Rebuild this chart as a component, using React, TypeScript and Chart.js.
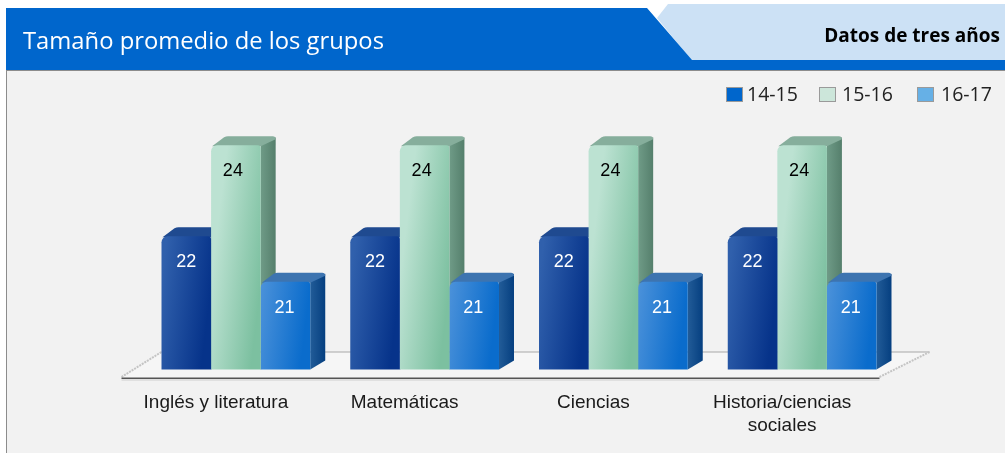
import React, { useEffect, useRef } from "react";
import { Chart, registerables } from "chart.js";

Chart.register(...registerables);

const categories: (string | string[])[] = ["Inglés y literatura", "Matemáticas", "Ciencias", ["Historia/ciencias", "sociales"]];
const seriesNames = ["14-15", "15-16", "16-17"];
const values1415 = [22, 22, 22, 22];
const values1516 = [24, 24, 24, 24];
const values1617 = [21, 21, 21, 21];
const titleText = "Tamaño promedio de los grupos";
const subtitleText = "Datos de tres años";

const frontColors = [["#3060AC", "#06338A"], ["#BCE2D2", "#7CC0A0"], ["#4C92DA", "#0A6CCC"]];
const topColors = ["#1F4A90", "#86AE9C", "#3D74B0"];
const sideColors = [["#0D3A80", "#0A2F70"], ["#6F9B87", "#557F6C"], ["#225C98", "#053F80"]];
const legendColors = ["#0066CC", "#CCE6DA", "#66B0E6"];
const labelColors = ["#ffffff", "#000000", "#ffffff"];
const labelOffsets = [0, -3, -1];
const DX = 15;
const DY = 9;
const BASE_FONT = "Liberation Sans";

function poly(ctx: CanvasRenderingContext2D, pts: number[][]) {
  ctx.beginPath();
  pts.forEach((p, i) => (i ? ctx.lineTo(p[0], p[1]) : ctx.moveTo(p[0], p[1])));
  ctx.closePath();
}

const backdrop = {
  id: "backdrop",
  beforeDraw(chart: any) {
    const ctx: CanvasRenderingContext2D = chart.ctx;
    ctx.save();
    ctx.fillStyle = "#ffffff";
    ctx.fillRect(0, 0, 1005, 453);
    ctx.fillStyle = "#F2F2F2";
    ctx.fillRect(6, 70, 999, 383);
    ctx.fillStyle = "#8C8C8C";
    ctx.fillRect(6, 70, 1, 383);
    ctx.fillRect(6, 70, 999, 1);

    ctx.fillStyle = "#CCE1F5";
    poly(ctx, [[668, 4], [1005, 4], [1005, 61], [692, 61], [657, 18]]);
    ctx.fill();
    ctx.fillStyle = "#0066CC";
    poly(ctx, [[6, 8], [647, 8], [692, 60], [1005, 60], [1005, 70], [6, 70]]);
    ctx.fill();

    ctx.textBaseline = "middle";
    ctx.textAlign = "left";
    ctx.fillStyle = "#ffffff";
    ctx.font = "24px 'Open Sans'";
    ctx.fillText(titleText, 23, 42, 361);
    ctx.textAlign = "right";
    ctx.fillStyle = "#000000";
    ctx.font = "bold 19px 'Open Sans'";
    ctx.fillText(subtitleText, 1000, 37);

    const legendX = [726, 819, 917];
    const legendTextGap = [21, 23, 24];
    ctx.textAlign = "left";
    ctx.font = "19.5px 'Open Sans'";
    seriesNames.forEach((name, i) => {
      ctx.fillStyle = legendColors[i];
      ctx.strokeStyle = "#9A9A9A";
      ctx.lineWidth = 1;
      ctx.fillRect(legendX[i] + 0.5, 87.5, 16, 14);
      ctx.strokeRect(legendX[i] + 0.5, 87.5, 16, 14);
      ctx.fillStyle = "#222222";
      ctx.fillText(name, legendX[i] + legendTextGap[i], 95);
    });
    ctx.restore();
  },
  beforeDatasetsDraw(chart: any) {
    const ctx: CanvasRenderingContext2D = chart.ctx;
    const a = chart.chartArea;
    const b = a.bottom;
    ctx.save();
    // floor of the 3D plot
    ctx.fillStyle = "#F6F6F6";
    poly(ctx, [[a.left - 20, b + 8.5], [a.left + 20, b - 17.5], [a.right + 33, b - 17.5], [a.right - 17, b + 8.5]]);
    ctx.fill();
    ctx.strokeStyle = "#A8A8A8";
    ctx.lineWidth = 1;
    ctx.beginPath();
    ctx.moveTo(a.left + 20, b - 17.5);
    ctx.lineTo(a.right + 33, b - 17.5);
    ctx.stroke();
    ctx.strokeStyle = "#C4C4C4";
    ctx.lineWidth = 2;
    ctx.setLineDash([2, 1]);
    ctx.beginPath();
    ctx.moveTo(a.left - 20, b + 7.5);
    ctx.lineTo(a.left + 20, b - 17.5);
    ctx.moveTo(a.right - 17, b + 7.5);
    ctx.lineTo(a.right + 33, b - 17.5);
    ctx.stroke();
    ctx.setLineDash([]);
    ctx.fillStyle = "#E0E0E0";
    ctx.fillRect(a.left - 20, b + 9.5, a.right - a.left + 3, 2);
    ctx.fillStyle = "#555555";
    ctx.fillRect(a.left - 20, b + 8, a.right - a.left + 3, 1.5);

    // top and side faces of each bar, back to front
    chart.data.datasets.forEach((_: any, d: number) => {
      const meta = chart.getDatasetMeta(d);
      meta.data.forEach((bar: any) => {
        const l = bar.x - bar.width / 2;
        const r = bar.x + bar.width / 2;
        const t = bar.y;
        const g = ctx.createLinearGradient(r, 0, r + DX, 0);
        g.addColorStop(0, sideColors[d][0]);
        g.addColorStop(1, sideColors[d][1]);
        ctx.fillStyle = g;
        poly(ctx, [[r, t], [r + DX, t - DY + 1], [r + DX, b - DY], [r, b]]);
        ctx.fill();
        ctx.fillStyle = topColors[d];
        ctx.beginPath();
        ctx.moveTo(l + 1, t + 1);
        ctx.lineTo(l + DX - 2, t - DY + 1);
        ctx.quadraticCurveTo(l + DX, t - DY, l + DX + 2, t - DY);
        ctx.lineTo(r + DX - 3, t - DY);
        ctx.quadraticCurveTo(r + DX, t - DY, r + DX, t - DY + 3);
        ctx.lineTo(r, t + 1);
        ctx.closePath();
        ctx.fill();
      });
    });
    ctx.restore();
  },
  afterDatasetsDraw(chart: any) {
    const ctx: CanvasRenderingContext2D = chart.ctx;
    ctx.save();
    ctx.font = `18px '${BASE_FONT}'`;
    ctx.textAlign = "center";
    ctx.textBaseline = "middle";
    chart.data.datasets.forEach((ds: any, d: number) => {
      ctx.fillStyle = labelColors[d];
      chart.getDatasetMeta(d).data.forEach((bar: any, i: number) => {
        ctx.fillText(String(ds.data[i]), bar.x + labelOffsets[d], bar.y + 26);
      });
    });
    ctx.restore();
  },
};

function frontGradient(context: any) {
  const chart = context.chart;
  const d = context.datasetIndex;
  const scale = chart.scales.x;
  if (!scale || context.dataIndex === undefined) return frontColors[d][1];
  const cx = scale.getPixelForValue(context.dataIndex);
  if (!Number.isFinite(cx)) return frontColors[d][1];
  const w = 49.6;
  const left = cx + (d - 1.5) * w;
  const g = chart.ctx.createLinearGradient(left, 280, left + w, 286);
  g.addColorStop(0, frontColors[d][0]);
  g.addColorStop(1, frontColors[d][1]);
  return g;
}

export default function App() {
  const ref = useRef<HTMLCanvasElement>(null);
  useEffect(() => {
    const chart = new Chart(ref.current as HTMLCanvasElement, {
      type: "bar",
      data: {
        labels: categories as any,
        datasets: [values1415, values1516, values1617].map((data, i) => ({
          label: seriesNames[i],
          data,
          backgroundColor: frontGradient,
          borderWidth: 0,
          borderRadius: { topLeft: 6, topRight: 3, bottomLeft: 2, bottomRight: 2 },
          borderSkipped: false,
          categoryPercentage: 0.788,
          barPercentage: 1,
        })),
      },
      options: {
        animation: false,
        responsive: false,
        layout: { padding: { left: 141.5, right: 108.5, top: 99.7, bottom: 0 } },
        plugins: { legend: { display: false }, title: { display: false }, tooltip: { enabled: false } },
        scales: {
          y: { display: false, min: 19.07, max: 25 },
          x: {
            grid: { display: false },
            border: { display: false },
            afterFit(scale: any) {
              scale.height = 83.5;
            },
            ticks: {
              padding: 14,
              labelOffset: -20,
              maxRotation: 0,
              autoSkip: false,
              color: "#1a1a1a",
              font: { family: BASE_FONT, size: 19, lineHeight: "23px" as any },
            },
          },
        },
      },
      plugins: [backdrop],
    } as any);
    return () => chart.destroy();
  }, []);
  return (
    <div style={{ position: "absolute", left: 0, top: 0, width: 1005, height: 453 }}>
      <canvas ref={ref} width={1005} height={453} style={{ display: "block" }} />
    </div>
  );
}
